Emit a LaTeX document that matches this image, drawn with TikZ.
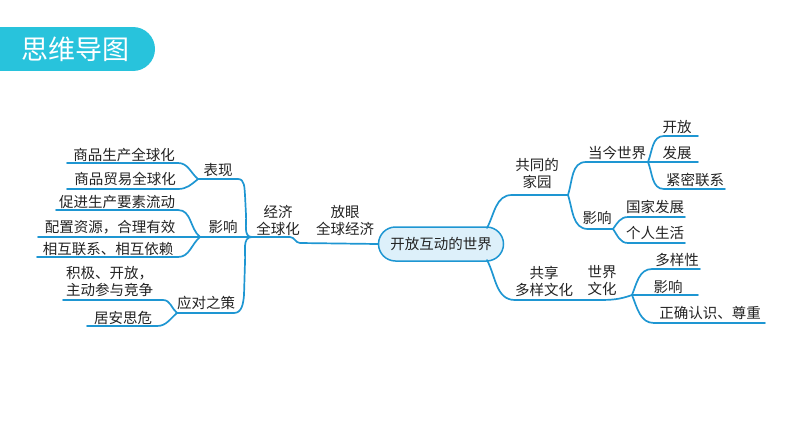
\documentclass[tikz,border=0pt]{standalone}
\usepackage{fontspec}
\newfontfamily\cjk{Noto Sans CJK SC}
\definecolor{lineblue}{HTML}{1E96D2}
\definecolor{titlecyan}{HTML}{28C3DC}
\definecolor{nodefill}{HTML}{DDF0FA}
\definecolor{txt}{HTML}{222222}
\begin{document}
\begin{tikzpicture}[x=1pt,y=-1pt,
  lbl/.style={inner sep=0pt, text=txt, font=\cjk\fontsize{14.5}{17}\selectfont, align=center},
  conn/.style={draw=lineblue, line width=1.7pt, line cap=round, line join=round},
  centerbox/.style={draw=lineblue, line width=1.5pt, fill=nodefill, rounded corners=17pt,
     minimum width=125pt, minimum height=34pt, inner sep=0pt, text=txt,
     font=\cjk\fontsize{14.5}{17}\selectfont}]
\useasboundingbox (0,0) rectangle (794,447);
% title banner
\fill[titlecyan] (0,27) rectangle (133,71);
\fill[titlecyan] (133,49) circle[radius=22pt];
\node[inner sep=0pt, text=white, font=\cjk\fontsize{27}{30}\selectfont] (title) at (75,49) {思维导图};

% center
\node[centerbox] (C) at (441,244) {开放互动的世界};

% junction coordinates
\coordinate (JL) at (252,237);
\coordinate (JB) at (198,179);
\coordinate (JI) at (200,237);
\coordinate (JY) at (177,313);
\coordinate (cu) at (487,228);
\coordinate (cd) at (487,260);
\coordinate (JU) at (568,195);
\coordinate (JD) at (648,162);
\coordinate (JR) at (613,229);
\coordinate (JW) at (632,295);

% left texts
\node[lbl] (jjqq) at (278,220) {经济\\全球化};
\node[lbl] (fyqq) at (345,220) {放眼\\全球经济};
\node[lbl] (bx) at (218,170) {表现};
\node[lbl] (yxl) at (223,227) {影响};
\node[lbl] (ydzc) at (206,303) {应对之策};
\node[lbl] (sp1) at (124,155) {商品生产全球化};
\node[lbl] (sp2) at (125,179) {商品贸易全球化};
\node[lbl] (cj) at (117,202) {促进生产要素流动};
\node[lbl] (pz) at (110,227) {配置资源，合理有效};
\node[lbl] (xh) at (108,249) {相互联系、相互依赖};
\node[lbl, align=left, anchor=west] (jj) at (66,281) {积极、开放，\\主动参与竞争};
\node[lbl] (ja) at (123,318) {居安思危};

% right texts
\node[lbl] (gt) at (537,173) {共同的\\家园};
\node[lbl] (djsj) at (617,153) {当今世界};
\node[lbl] (kf) at (677,127) {开放};
\node[lbl] (fz) at (677,153) {发展};
\node[lbl] (jm) at (695,180) {紧密联系};
\node[lbl] (yxr) at (597,218) {影响};
\node[lbl] (gj) at (655,207) {国家发展};
\node[lbl] (gr) at (655,233) {个人生活};
\node[lbl] (gx) at (544,281) {共享\\多样文化};
\node[lbl] (sjwh) at (602,281) {世界\\文化};
\node[lbl] (dyx) at (677,260) {多样性};
\node[lbl] (yx3) at (668,287) {影响};
\node[lbl] (zq) at (710,313) {正确认识、尊重};

% left connectors
\draw[conn] (C.west) -- (300,243) to[out=180,in=0] (290,237) -- (JL);
\draw[conn] (JL) to[out=180,in=-85] (246,215) -- (245,195) to[out=95,in=0] (238,179) -- (JB);
\draw[conn] (JL) -- (JI);
\draw[conn] (JL) to[out=180,in=85] (245,262) -- (244,295) to[out=-95,in=0] (234,313) -- (JY);
\draw[conn] (67,163) -- (178,163) to[out=0,in=140] (JB);
\draw[conn] (67,189) -- (178,189) to[out=0,in=220] (JB);
\draw[conn] (56,210) -- (178,210) to[out=0,in=140] (JI);
\draw[conn] (38,237) -- (JI);
\draw[conn] (37,257) -- (178,257) to[out=0,in=220] (JI);
\draw[conn] (63,300) -- (163,300) to[out=0,in=140] (JY);
\draw[conn] (87,326) -- (157,326) to[out=0,in=220] (JY);

% right connectors
\draw[conn] (cu) to[out=62,in=180] (512,195) -- (JU);
\draw[conn] (JU) to[out=72,in=180] (586,162) -- (JD);
\draw[conn] (JU) to[out=-72,in=180] (588,229) -- (JR);
\draw[conn] (JD) to[out=68,in=180] (664,136) -- (698,136);
\draw[conn] (JD) -- (698,162);
\draw[conn] (JD) to[out=-68,in=180] (664,189) -- (725,189);
\draw[conn] (JR) to[out=55,in=180] (628,217) -- (685,217);
\draw[conn] (JR) to[out=-55,in=180] (628,243) -- (685,243);
\draw[conn] (cd) to[out=-62,in=180] (515,300) -- (598,300) to[out=0,in=200] (JW);
\draw[conn] (JW) to[out=68,in=180] (652,269) -- (700,269);
\draw[conn] (JW) -- (698,295);
\draw[conn] (JW) to[out=-68,in=180] (654,323) -- (765,323);
\end{tikzpicture}
\end{document}
